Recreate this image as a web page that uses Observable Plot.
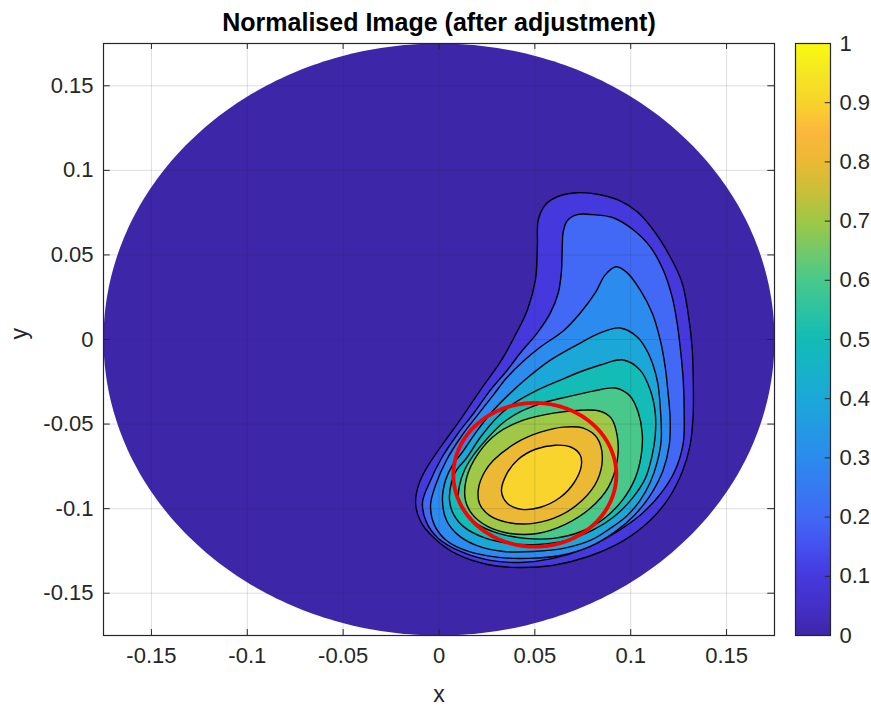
<!DOCTYPE html>
<html><head><meta charset="utf-8">
<script src="https://cdn.jsdelivr.net/npm/d3@7"></script>
<script src="https://cdn.jsdelivr.net/npm/@observablehq/plot@0.6"></script>
<style>
html,body{margin:0;padding:0;background:#fff;}
#wrap{position:relative;width:871px;height:706px;overflow:hidden;background:#fff;}
#wrap svg{position:absolute;top:0;}
</style></head><body><div id="wrap"></div>
<script>
// ---- ticks ----
const xTicks = [-0.15, -0.1, -0.05, 0, 0.05, 0.1, 0.15];
const xTickLabels = ["-0.15", "-0.1", "-0.05", "0", "0.05", "0.1", "0.15"];
const yTicks = [-0.15, -0.1, -0.05, 0, 0.05, 0.1, 0.15];
const yTickLabels = ["-0.15", "-0.1", "-0.05", "0", "0.05", "0.1", "0.15"];
const cbTicks = [0, 0.1, 0.2, 0.3, 0.4, 0.5, 0.6, 0.7, 0.8, 0.9, 1];
const cbTickLabels = ["0", "0.1", "0.2", "0.3", "0.4", "0.5", "0.6", "0.7", "0.8", "0.9", "1"];
const titleText = "Normalised Image (after adjustment)";
const xLabel = "x";
const yLabel = "y";

// ---- colormap (parula-like) ----
const parulaStops = [0, 0.05, 0.1, 0.15, 0.2, 0.3, 0.4, 0.5, 0.6, 0.7, 0.75, 0.8, 0.85, 0.9, 0.95, 1];
const parulaColors = ["#3e26a8", "#4430c8", "#4539dd", "#4550f0", "#4169f5", "#2c8bee", "#1ba8d9", "#13bcb6", "#48c98b", "#9fc846", "#c9bf38", "#ebb934", "#fcb73d", "#f8d42c", "#f5e624", "#f9fb0e"];

// ---- domain disk and marker circle ----
const diskCenter = [0, 0];
const diskRadius = 0.175;
const markerCenter = [0.05, -0.08];
const markerRadius = 0.0425;

// ---- contour levels and their traced outlines [x, y] ----
const contourLevels = [0.1, 0.2, 0.3, 0.4, 0.5, 0.6, 0.7, 0.8, 0.9];
const contour01 = [[0.0617,0.0844],[0.0721,0.0868],[0.0841,0.0856],[0.0945,0.0820],[0.1034,0.0755],[0.1117,0.0649],[0.1206,0.0489],[0.1268,0.0335],[0.1299,0.0157],[0.1320,-0.0044],[0.1326,-0.0240],[0.1326,-0.0435],[0.1310,-0.0625],[0.1268,-0.0785],[0.1201,-0.0933],[0.1102,-0.1069],[0.0956,-0.1194],[0.0779,-0.1283],[0.0591,-0.1336],[0.0409,-0.1348],[0.0253,-0.1330],[0.0096,-0.1271],[-0.0023,-0.1176],[-0.0096,-0.1075],[-0.0122,-0.0969],[-0.0107,-0.0862],[-0.0065,-0.0761],[0.0023,-0.0613],[0.0117,-0.0465],[0.0216,-0.0299],[0.0320,-0.0133],[0.0393,0.0015],[0.0461,0.0175],[0.0503,0.0352],[0.0513,0.0548],[0.0518,0.0708],[0.0555,0.0797]];
const contour02 = [[0.0669,0.0702],[0.0721,0.0738],[0.0805,0.0738],[0.0909,0.0720],[0.1013,0.0649],[0.1102,0.0548],[0.1169,0.0412],[0.1216,0.0252],[0.1242,0.0098],[0.1258,-0.0044],[0.1274,-0.0240],[0.1279,-0.0435],[0.1274,-0.0613],[0.1232,-0.0773],[0.1154,-0.0915],[0.1049,-0.1039],[0.0914,-0.1146],[0.0763,-0.1235],[0.0596,-0.1294],[0.0424,-0.1318],[0.0268,-0.1306],[0.0112,-0.1253],[-0.0003,-0.1176],[-0.0065,-0.1081],[-0.0086,-0.0963],[-0.0049,-0.0845],[0.0013,-0.0702],[0.0096,-0.0560],[0.0185,-0.0430],[0.0268,-0.0299],[0.0357,-0.0180],[0.0424,-0.0080],[0.0513,0.0039],[0.0581,0.0157],[0.0622,0.0275],[0.0638,0.0394],[0.0643,0.0548],[0.0648,0.0637]];
const contour03 = [[0.0924,0.0430],[0.0982,0.0394],[0.1049,0.0293],[0.1112,0.0157],[0.1154,-0.0003],[0.1180,-0.0163],[0.1195,-0.0317],[0.1206,-0.0477],[0.1201,-0.0625],[0.1169,-0.0773],[0.1102,-0.0921],[0.1018,-0.1040],[0.0914,-0.1140],[0.0789,-0.1223],[0.0633,-0.1277],[0.0466,-0.1294],[0.0310,-0.1288],[0.0154,-0.1253],[0.0039,-0.1188],[-0.0023,-0.1099],[-0.0044,-0.0980],[-0.0018,-0.0862],[0.0039,-0.0714],[0.0117,-0.0572],[0.0201,-0.0447],[0.0279,-0.0335],[0.0352,-0.0228],[0.0435,-0.0133],[0.0529,-0.0044],[0.0648,0.0050],[0.0737,0.0157],[0.0815,0.0275],[0.0867,0.0382]];
const contour04 = [[0.0945,0.0068],[0.1034,0.0015],[0.1091,-0.0080],[0.1138,-0.0240],[0.1154,-0.0400],[0.1159,-0.0595],[0.1138,-0.0725],[0.1102,-0.0844],[0.1049,-0.0951],[0.0982,-0.1040],[0.0893,-0.1117],[0.0789,-0.1188],[0.0648,-0.1235],[0.0492,-0.1253],[0.0336,-0.1253],[0.0195,-0.1217],[0.0096,-0.1152],[0.0039,-0.1069],[0.0018,-0.0951],[0.0034,-0.0832],[0.0070,-0.0744],[0.0122,-0.0666],[0.0201,-0.0536],[0.0284,-0.0418],[0.0372,-0.0317],[0.0466,-0.0222],[0.0581,-0.0122],[0.0737,-0.0021],[0.0841,0.0039]];
const contour05 = [[0.0961,-0.0121],[0.1049,-0.0181],[0.1102,-0.0299],[0.1128,-0.0435],[0.1128,-0.0566],[0.1112,-0.0684],[0.1076,-0.0821],[0.1008,-0.0939],[0.0914,-0.1046],[0.0799,-0.1129],[0.0664,-0.1188],[0.0518,-0.1212],[0.0367,-0.1206],[0.0232,-0.1170],[0.0133,-0.1111],[0.0076,-0.1034],[0.0055,-0.0951],[0.0065,-0.0844],[0.0091,-0.0773],[0.0143,-0.0702],[0.0216,-0.0578],[0.0299,-0.0465],[0.0393,-0.0376],[0.0503,-0.0305],[0.0633,-0.0240],[0.0721,-0.0198],[0.0841,-0.0151]];
const contour06 = [[0.0919,-0.0287],[0.0997,-0.0335],[0.1039,-0.0430],[0.1060,-0.0554],[0.1055,-0.0684],[0.1023,-0.0821],[0.0956,-0.0951],[0.0862,-0.1058],[0.0742,-0.1135],[0.0596,-0.1176],[0.0451,-0.1176],[0.0310,-0.1146],[0.0201,-0.1093],[0.0133,-0.1022],[0.0102,-0.0951],[0.0107,-0.0862],[0.0133,-0.0773],[0.0180,-0.0684],[0.0253,-0.0584],[0.0331,-0.0495],[0.0430,-0.0424],[0.0555,-0.0370],[0.0685,-0.0335],[0.0805,-0.0305]];
const contour07 = [[0.0841,-0.0424],[0.0898,-0.0465],[0.0930,-0.0572],[0.0930,-0.0714],[0.0883,-0.0874],[0.0789,-0.0998],[0.0659,-0.1093],[0.0513,-0.1147],[0.0372,-0.1147],[0.0253,-0.1105],[0.0174,-0.1034],[0.0138,-0.0951],[0.0143,-0.0821],[0.0206,-0.0672],[0.0305,-0.0554],[0.0440,-0.0477],[0.0596,-0.0435],[0.0737,-0.0418]];
const contour08 = [[0.0648,-0.0518],[0.0753,-0.0524],[0.0826,-0.0584],[0.0852,-0.0696],[0.0826,-0.0832],[0.0747,-0.0951],[0.0633,-0.1040],[0.0492,-0.1087],[0.0357,-0.1081],[0.0263,-0.1040],[0.0211,-0.0969],[0.0206,-0.0880],[0.0237,-0.0785],[0.0284,-0.0714],[0.0409,-0.0607],[0.0529,-0.0548]];
const contour09 = [[0.0607,-0.0625],[0.0690,-0.0637],[0.0737,-0.0684],[0.0742,-0.0749],[0.0706,-0.0844],[0.0633,-0.0933],[0.0529,-0.0992],[0.0430,-0.1004],[0.0357,-0.0969],[0.0326,-0.0898],[0.0352,-0.0797],[0.0414,-0.0708],[0.0503,-0.0649]];

// ---- build tables ----
const contours = [contour01, contour02, contour03, contour04, contour05, contour06, contour07, contour08, contour09];
const contourRows = contours.flatMap((pts, i) => pts.map(([x, y]) => ({level: contourLevels[i], x, y})));
const circlePts = (c, r) => d3.range(0, 360, 1).map(a => ({x: c[0] + r * Math.cos(a * Math.PI / 180), y: c[1] + r * Math.sin(a * Math.PI / 180)}));
const diskPts = circlePts(diskCenter, diskRadius);
const markerPts = circlePts(markerCenter, markerRadius);

const FONT = '"Liberation Sans", Arial, Helvetica, sans-serif';
const AX = "#262626";
const colorScale = {type: "linear", domain: parulaStops, range: parulaColors};
const lim = 0.175;
const tl = 0.0035;

const main = Plot.plot({
  width: 871, height: 706,
  marginLeft: 103, marginRight: 97, marginTop: 43, marginBottom: 71,
  style: {fontFamily: FONT, fontSize: "22px", color: AX, background: "transparent", overflow: "visible"},
  x: {domain: [-lim, lim], ticks: xTicks, tickFormat: d => xTickLabels[xTicks.indexOf(d)], tickSize: 0, tickPadding: 12, label: null},
  y: {domain: [-lim, lim], ticks: yTicks, tickFormat: d => yTickLabels[yTicks.indexOf(d)], tickSize: 0, tickPadding: 10, label: null},
  color: colorScale,
  marks: [
    Plot.line(diskPts, {x: "x", y: "y", fill: parulaColors[0], stroke: "none", curve: "linear-closed"}),
    Plot.line(contourRows, {x: "x", y: "y", z: "level", fill: "level", stroke: "#000", strokeWidth: 1.4, curve: "catmull-rom-closed"}),
    Plot.ruleX(xTicks, {stroke: AX, strokeOpacity: 0.15}),
    Plot.ruleY(yTicks, {stroke: AX, strokeOpacity: 0.15}),
    Plot.line(markerPts, {x: "x", y: "y", stroke: "#ff0000", strokeWidth: 3.8, curve: "linear-closed"}),
    Plot.ruleX(xTicks, {y1: -lim, y2: -lim + tl, stroke: AX}),
    Plot.ruleX(xTicks, {y1: lim, y2: lim - tl, stroke: AX}),
    Plot.ruleY(yTicks, {x1: -lim, x2: -lim + tl, stroke: AX}),
    Plot.ruleY(yTicks, {x1: lim, x2: lim - tl, stroke: AX}),
    Plot.frame({stroke: AX, strokeWidth: 1.2}),
    Plot.text([titleText], {text: d => d, frameAnchor: "top", dy: -21, fontSize: 25, fontWeight: "bold", fill: "#000", lineAnchor: "middle"}),
    Plot.text([xLabel], {text: d => d, frameAnchor: "bottom", dy: 59, fontSize: 23, fill: AX, lineAnchor: "middle"}),
    Plot.text([yLabel], {text: d => d, frameAnchor: "left", dx: -84, rotate: -90, fontSize: 23, fill: AX, lineAnchor: "middle"})
  ]
});
main.style.left = "0px";

const cb = Plot.plot({
  width: 91, height: 706,
  marginLeft: 15, marginRight: 41, marginTop: 43, marginBottom: 71,
  style: {fontFamily: FONT, fontSize: "22px", color: AX, background: "transparent", overflow: "visible"},
  x: {domain: [0, 1], axis: null},
  y: {domain: [0, 1], axis: "right", ticks: cbTicks, tickFormat: d => cbTickLabels[cbTicks.indexOf(d)], tickSize: 0, tickPadding: 9, label: null},
  color: colorScale,
  marks: [
    Plot.raster({x1: 0, x2: 1, y1: 0, y2: 1, width: 1, height: 400, fill: (x, y) => y}),
    Plot.ruleY(cbTicks, {x1: 1, x2: 0.85, stroke: AX}),
    Plot.frame({stroke: AX, strokeWidth: 1.2})
  ]
});
cb.style.left = "780px";

const wrap = document.getElementById("wrap");
wrap.appendChild(main);
wrap.appendChild(cb);
</script></body></html>
